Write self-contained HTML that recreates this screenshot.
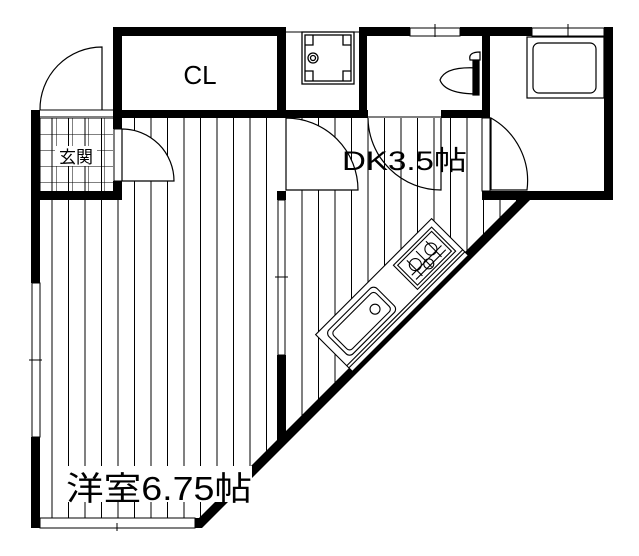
<!DOCTYPE html>
<html><head><meta charset="utf-8"><style>
html,body{margin:0;padding:0;background:#fff;}
svg{display:block}
text{font-family:"Liberation Sans","Noto Sans CJK JP",sans-serif;fill:#000}
</style></head><body>
<svg width="639" height="556" viewBox="0 0 639 556" xmlns="http://www.w3.org/2000/svg">
<defs>
<clipPath id="west"><polygon points="40,118 277,118 277,440 200,518 40,518"/></clipPath>
<clipPath id="dk"><polygon points="286,118 482,118 482,200 520,200 286,434"/></clipPath>
<pattern id="vl" x="35" y="0" width="16.5" height="600" patternUnits="userSpaceOnUse"><line x1="0.5" y1="0" x2="0.5" y2="600" stroke="#000" stroke-width="1"/></pattern>
<pattern id="vl2" x="285" y="0" width="16.5" height="600" patternUnits="userSpaceOnUse"><line x1="0.5" y1="0" x2="0.5" y2="600" stroke="#000" stroke-width="1"/></pattern>
<pattern id="grid" x="40" y="118" width="16" height="16" patternUnits="userSpaceOnUse"><path d="M0 0H16M0 0V16" fill="none" stroke="#000" stroke-width="1"/></pattern>
</defs>
<rect x="0" y="0" width="639" height="556" fill="url(#vl)" clip-path="url(#west)"/>
<rect x="0" y="0" width="639" height="556" fill="url(#vl2)" clip-path="url(#dk)"/>
<rect x="40" y="118" width="73" height="73" fill="url(#grid)"/>
<path d="M40 110 A62 62 0 0 1 102 47 L102 110" fill="none" stroke="#000" stroke-width="1.2"/>
<line x1="40" y1="110" x2="113" y2="110" stroke="#000"/><line x1="40" y1="117" x2="113" y2="117" stroke="#000"/>
<g fill="#000">
<rect x="31" y="110" width="9" height="90"/>
<rect x="31" y="191" width="90" height="9"/>
<rect x="113" y="110" width="9" height="19"/>
<rect x="113" y="181" width="9" height="19"/>
<rect x="113" y="27" width="172" height="9"/>
<rect x="113" y="27" width="9" height="91"/>
<rect x="277" y="27" width="9" height="91"/>
<rect x="113" y="110" width="255" height="8"/>
<rect x="441" y="110" width="49" height="8"/>
<rect x="359" y="27" width="51" height="9"/>
<rect x="460" y="27" width="72" height="9"/>
<rect x="359" y="27" width="8" height="91"/>
<rect x="482" y="27" width="8" height="91"/>
<rect x="604" y="27" width="9" height="173"/>
<rect x="482" y="191" width="131" height="9"/>
<rect x="277" y="191" width="9" height="9"/>
<rect x="277" y="355" width="9" height="85"/>
<rect x="31" y="437" width="9" height="91"/>
<rect x="31" y="200" width="9" height="83"/>
<rect x="31" y="518" width="9" height="10"/>
<polygon points="517,200 530,200 202,528 189,528"/>
<rect x="189" y="518" width="11" height="10"/>
</g>
<g fill="#fff" stroke="#000" stroke-width="1">
<rect x="32" y="283" width="8" height="154"/>
<rect x="40" y="518" width="155" height="10"/>
<rect x="278" y="200" width="7" height="155"/>
<rect x="410" y="28" width="50" height="8"/>
<rect x="532" y="28" width="72" height="8"/>
<rect x="114" y="129" width="8" height="52"/>
<rect x="482" y="118" width="8" height="73"/>
</g>
<line x1="29" y1="360" x2="42" y2="360" stroke="#000"/>
<line x1="117" y1="523" x2="117" y2="531" stroke="#000"/>
<line x1="275" y1="277" x2="288" y2="277" stroke="#000"/>
<line x1="435" y1="24" x2="435" y2="37" stroke="#000"/>
<line x1="568" y1="24" x2="568" y2="37" stroke="#000"/>
<line x1="285" y1="32" x2="359" y2="32" stroke="#000"/>
<g fill="#fff" stroke="#000" stroke-width="1.2">
<path d="M122 129 A52 52 0 0 1 174 181 L122 181 Z"/>
<path d="M286 118 A72 72 0 0 1 358 190 L286 190 Z"/>
<path d="M368 118 A73 73 0 0 0 441 190 L441 118" fill="none"/>
<path d="M491 118 A72 72 0 0 1 527 190 L491 190 Z"/>
</g>
<line x1="368" y1="117" x2="441" y2="117" stroke="#000"/>
<g fill="none" stroke="#000" stroke-width="1.3">
<rect x="302" y="32" width="52" height="52"/>
<rect x="305" y="35" width="46" height="46"/>
<path d="M305 45H313V35M343 35V45H351M305 71H313V81M343 81V71H351"/>
<circle cx="313" cy="58" r="5"/><circle cx="313" cy="58" r="2.5"/>
</g>
<g fill="#fff" stroke="#000" stroke-width="1.2">
<path d="M478 68 Q445 66 440 80 Q445 94 478 94 Z"/>
<rect x="473" y="60" width="6" height="35" fill="#000"/>
<path d="M470 60 Q468 52 480 52 L480 60 Z"/>
</g>
<g fill="none" stroke="#000" stroke-width="1.2">
<rect x="527" y="37" width="77" height="61"/>
<rect x="533" y="43" width="63" height="50" rx="6"/>
</g>
<g transform="translate(392,295) rotate(-45)" fill="none" stroke="#000" stroke-width="1.1">
<rect x="-82" y="-26" width="164" height="52" fill="#fff"/>
<line x1="-82" y1="18" x2="82" y2="18"/><line x1="-82" y1="21" x2="82" y2="21"/>
<rect x="-74" y="-20" width="68" height="34" rx="5"/>
<rect x="-70" y="-16" width="60" height="26" rx="4"/>
<circle cx="-22" cy="-2" r="5"/>
<rect x="22" y="-20" width="54" height="34"/>
<rect x="25" y="-17" width="48" height="28"/>
<circle cx="38" cy="-5" r="6"/><circle cx="60" cy="-5" r="6"/><circle cx="48" cy="4" r="5"/>
<path d="M28 0H70M28 6H70M35 -14V8M48 -14V8M62 -14V8"/>
</g>
<text x="200" y="84" font-size="26" text-anchor="middle">CL</text>
<rect x="55" y="146" width="42" height="20" fill="#fff"/>
<text x="76" y="163" font-size="17" text-anchor="middle">玄関</text>
<text x="342" y="170" font-size="27" textLength="125" lengthAdjust="spacingAndGlyphs">DK3.5帖</text>
<rect x="66" y="466" width="186" height="36" fill="#fff"/>
<text x="66" y="500" font-size="33" textLength="186" lengthAdjust="spacingAndGlyphs">洋室6.75帖</text>
</svg>
</body></html>
